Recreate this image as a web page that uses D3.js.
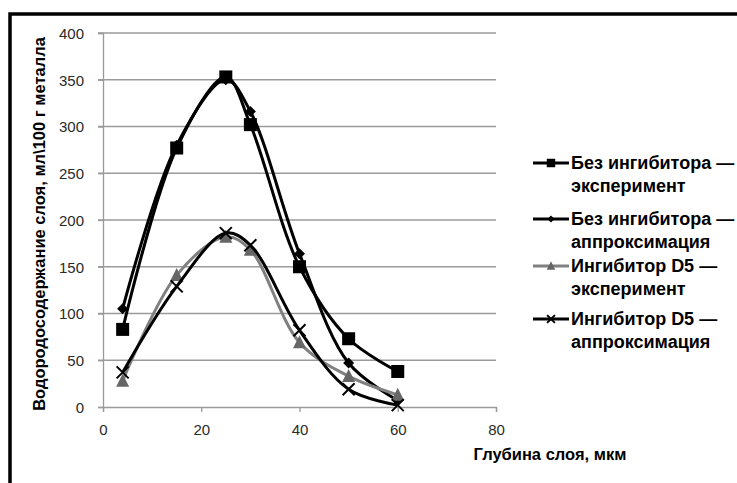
<!DOCTYPE html>
<meta charset="utf-8">
<style>
  body { margin: 0; background: #fff; }
  svg { display: block; }
  text { font-family: "Liberation Sans", Arial, sans-serif; }
  .tick text { font-size: 15px; fill: #2a2a2a; }
  .title { font-size: 16.5px; font-weight: bold; fill: #000; }
  .legend text { font-size: 18px; font-weight: bold; fill: #000; }
</style>
<script src="https://cdn.jsdelivr.net/npm/d3@7"></script>
<body>
<svg width="737" height="483"></svg>
</body>
<script>
const depth = [4, 15, 25, 30, 40, 50, 60];

const noInhExp = [83, 277, 353, 302, 150, 73, 38];
const noInhFit = [105, 280, 350, 316, 164, 47, 7];
const d5Exp = [28, 141, 182, 168, 69, 33, 13];
const d5Fit = [37, 129, 186, 173, 82, 19, 2];

const xTicks = [0, 20, 40, 60, 80];
const yTicks = [0, 50, 100, 150, 200, 250, 300, 350, 400];

const seriesNames = [
  ['Без ингибитора —', 'эксперимент'],
  ['Без ингибитора —', 'аппроксимация'],
  ['Ингибитор D5 —', 'эксперимент'],
  ['Ингибитор D5 —', 'аппроксимация']
];

const svg = d3.select('svg');

// outer frame (cut by the picture at right and bottom)
svg.append('path')
    .attr('d', 'M10,490 V14 H745')
    .attr('fill', 'none')
    .attr('stroke', '#000')
    .attr('stroke-width', 3.5);

const x = d3.scaleLinear().domain([0, 80]).range([103, 496]);
const y = d3.scaleLinear().domain([0, 400]).range([407, 33]);

// gridlines
svg.append('g')
  .selectAll('line')
    .data(yTicks.slice(1))
  .enter().append('line')
    .attr('x1', x(0) - 5).attr('x2', x(80))
    .attr('y1', d => y(d)).attr('y2', d => y(d))
    .attr('stroke', '#9a9a9a')
    .attr('stroke-width', 1.3);

const xAxis = svg.append('g')
    .attr('transform', `translate(0,${y(0)})`)
    .call(d3.axisBottom(x).tickValues(xTicks).tickSize(5).tickPadding(12));

const yAxis = svg.append('g')
    .attr('transform', `translate(${x(0)},0)`)
    .call(d3.axisLeft(y).tickValues(yTicks).tickSize(5).tickPadding(14));

[xAxis, yAxis].forEach(function(g) {
  g.select('.domain').attr('stroke', '#9a9a9a').attr('stroke-width', 1.3);
  g.selectAll('.tick line').attr('stroke', '#9a9a9a').attr('stroke-width', 1.3);
  g.selectAll('.tick text').attr('font-family', null).attr('font-size', null);
});
yAxis.selectAll('.tick text').attr('dy', '0.35em');

svg.append('text')
    .attr('class', 'title')
    .attr('x', 550).attr('y', 460)
    .attr('text-anchor', 'middle')
    .text('Глубина слоя, мкм');

svg.append('text')
    .attr('class', 'title')
    .attr('transform', 'translate(45,224) rotate(-90)')
    .attr('text-anchor', 'middle')
    .text('Водородосодержание слоя, мл\\100 г металла');

const line = d3.line()
    .x(d => x(d[0]))
    .y(d => y(d[1]))
    .curve(d3.curveCatmullRom.alpha(0.5));

const series = [
  { values: noInhExp, color: '#000', marker: 'square', mcolor: '#000' },
  { values: noInhFit, color: '#000', marker: 'diamond', mcolor: '#000' },
  { values: d5Exp, color: '#808080', marker: 'triangle', mcolor: '#666' },
  { values: d5Fit, color: '#000', marker: 'cross', mcolor: '#000' }
];

function drawMarker(g, type, color, s) {
  if (type === 'square') {
    g.append('rect').attr('x', -s / 2).attr('y', -s / 2).attr('width', s).attr('height', s).attr('fill', color);
  } else if (type === 'diamond') {
    g.append('path').attr('d', `M0,${-s / 2}L${s / 2},0L0,${s / 2}L${-s / 2},0Z`).attr('fill', color);
  } else if (type === 'triangle') {
    g.append('path').attr('d', `M0,${-s * 0.55}L${s / 2},${s * 0.45}L${-s / 2},${s * 0.45}Z`).attr('fill', color);
  } else {
    g.append('path').attr('d', `M${-s / 2},${-s / 2}L${s / 2},${s / 2}M${s / 2},${-s / 2}L${-s / 2},${s / 2}`)
      .attr('stroke', color).attr('stroke-width', 2);
  }
}

const markerSize = { square: 13, diamond: 11, triangle: 13, cross: 12 };

series.forEach(function(s) {
  const pts = depth.map((d, i) => [d, s.values[i]]);
  svg.append('path')
      .datum(pts)
      .attr('d', line)
      .attr('fill', 'none')
      .attr('stroke', s.color)
      .attr('stroke-width', 3)
      .attr('stroke-linejoin', 'round');
  svg.append('g')
    .selectAll('g')
      .data(pts)
    .enter().append('g')
      .attr('transform', d => `translate(${x(d[0])},${y(d[1])})`)
      .each(function() { drawMarker(d3.select(this), s.marker, s.mcolor, markerSize[s.marker]); });
});

// legend
const legendY = [163, 219, 266, 319];
const legend = svg.append('g').attr('class', 'legend');
series.forEach(function(s, i) {
  const g = legend.append('g').attr('transform', `translate(533,${legendY[i]})`);
  g.append('line').attr('x1', 0).attr('x2', 36).attr('stroke', s.color).attr('stroke-width', 3);
  const m = g.append('g').attr('transform', 'translate(18,0)');
  drawMarker(m, s.marker, s.mcolor, markerSize[s.marker] * 0.65);
  g.append('text').attr('x', 38).attr('y', 6).text(seriesNames[i][0]);
  g.append('text').attr('x', 38).attr('y', 29).text(seriesNames[i][1]);
});
</script>
